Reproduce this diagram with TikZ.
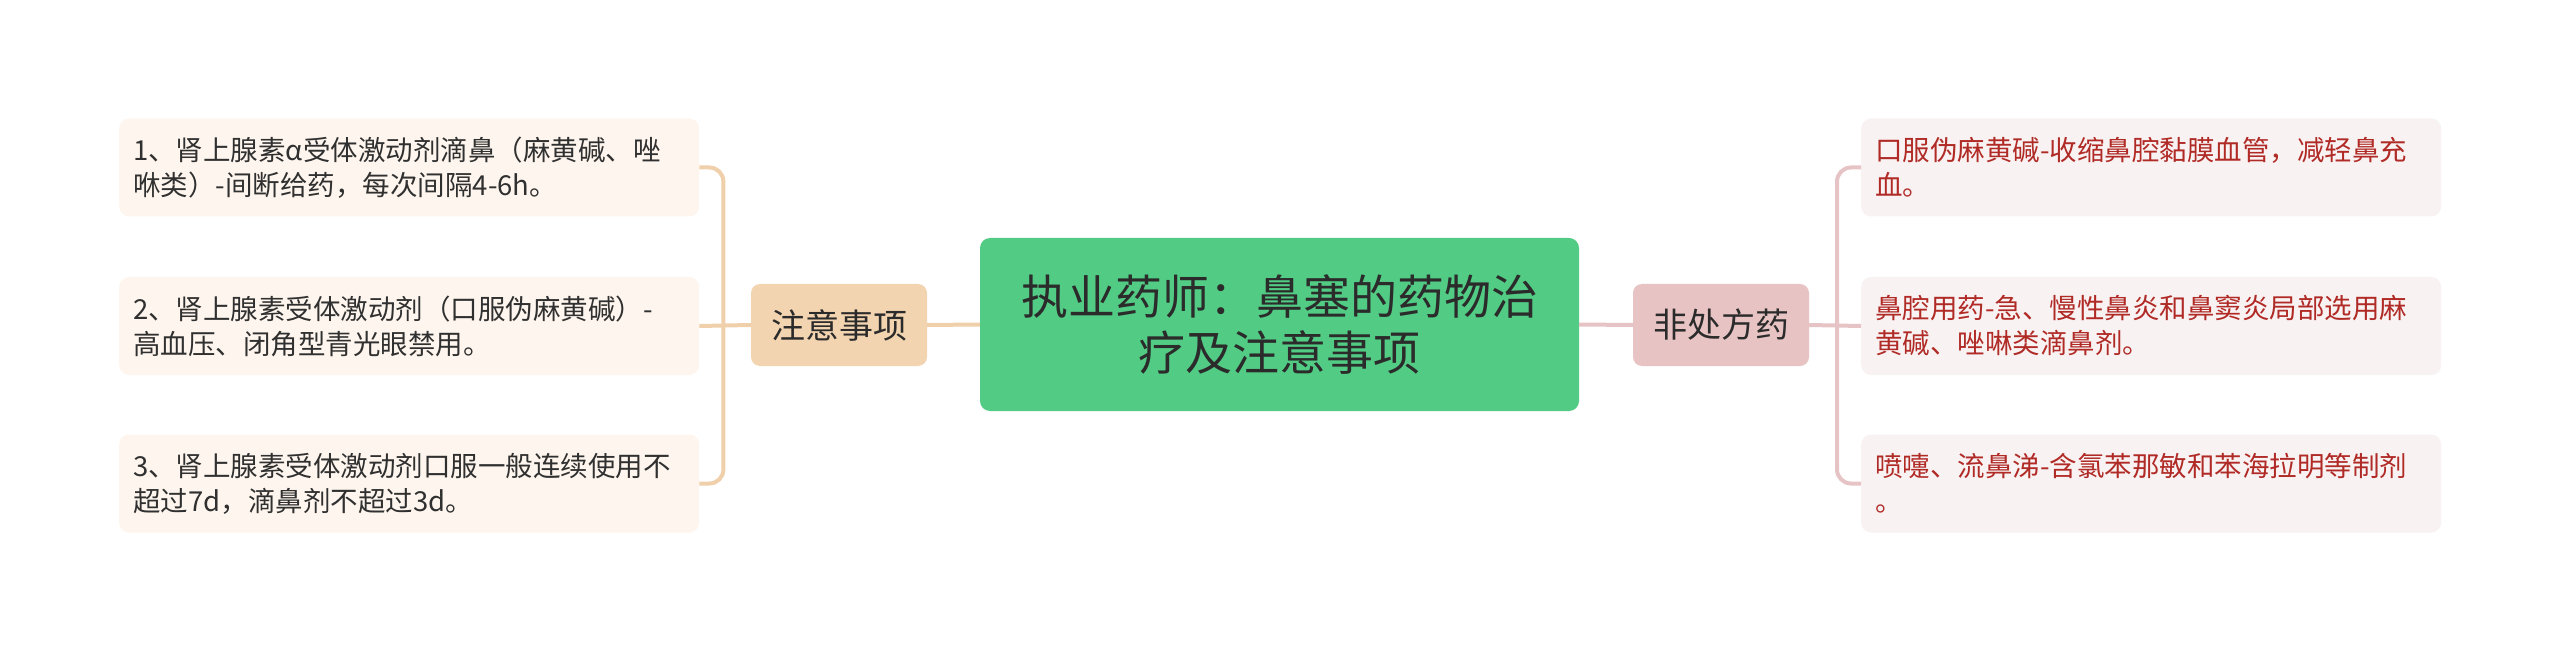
\documentclass[tikz,border=0pt]{standalone}
\usepackage{fontspec}
\setmainfont{Noto Sans CJK SC}
\definecolor{mainfill}{HTML}{52CC84}
\definecolor{maintext}{HTML}{2B2B2B}
\definecolor{lfill}{HTML}{F3D4B0}
\definecolor{lline}{HTML}{F0D0AA}
\definecolor{lleaf}{HTML}{FEF6EE}
\definecolor{lleaftext}{HTML}{303030}
\definecolor{rfill}{HTML}{E8C3C3}
\definecolor{rline}{HTML}{E6C4C6}
\definecolor{rleaf}{HTML}{F9F2F2}
\definecolor{rleaftext}{HTML}{B02A26}
\begin{document}
\begin{tikzpicture}[x=1pt,y=-1pt,
  leafbox/.style={rectangle, rounded corners=10pt, minimum height=98pt,
    text width=552pt, inner xsep=14pt, inner ysep=0pt, align=left,
    font=\fontsize{27.5}{35}\selectfont},
  leafL/.style={leafbox, fill=lleaf, text=lleaftext, anchor=west},
  leafR/.style={leafbox, fill=rleaf, text=rleaftext, anchor=west},
  midbox/.style={rectangle, rounded corners=9pt, minimum width=176pt,
    minimum height=82pt, inner sep=0pt, text=maintext,
    font=\fontsize{34}{40}\selectfont},
  lineL/.style={draw=lline, line width=4pt},
  lineR/.style={draw=rline, line width=4pt}]
\useasboundingbox[fill=white] (0,0) rectangle (2560,652);

\node[rectangle, rounded corners=10pt, fill=mainfill, text=maintext,
  minimum width=599pt, minimum height=173pt, inner sep=0pt, align=center,
  font=\fontsize{47}{56}\selectfont] (main) at (1279.5,324.5)
  {执业药师：鼻塞的药物治\\疗及注意事项};

\node[midbox, fill=lfill] (zy) at (839,325) {注意事项};
\node[midbox, fill=rfill] (fc) at (1721,325) {非处方药};

\node[leafL] (L1) at (119,167.5) {1、肾上腺素α受体激动剂滴鼻（麻黄碱、唑\\咻类）-间断给药，每次间隔4-6h。};
\node[leafL] (L2) at (119,326) {2、肾上腺素受体激动剂（口服伪麻黄碱）-\\高血压、闭角型青光眼禁用。};
\node[leafL] (L3) at (119,483.5) {3、肾上腺素受体激动剂口服一般连续使用不\\超过7d，滴鼻剂不超过3d。};

\node[leafR] (R1) at (1861,167.5) {口服伪麻黄碱-收缩鼻腔黏膜血管，减轻鼻充\\血。};
\node[leafR] (R2) at (1861,326) {鼻腔用药-急、慢性鼻炎和鼻窦炎局部选用麻\\黄碱、唑啉类滴鼻剂。};
\node[leafR] (R3) at (1861,483.5) {喷嚏、流鼻涕-含氯苯那敏和苯海拉明等制剂\\。};

\draw[lineL] (main.west) -- (zy.east);
\draw[lineL] (zy.west) -- (L2.east);
\draw[lineL, rounded corners=14pt] (L1.east) -- ++(24,0) |- (L3.east);

\draw[lineR] (main.east) -- (fc.west);
\draw[lineR] (fc.east) -- (R2.west);
\draw[lineR, rounded corners=14pt] (R1.west) -- ++(-24,0) |- (R3.west);
\end{tikzpicture}
\end{document}
